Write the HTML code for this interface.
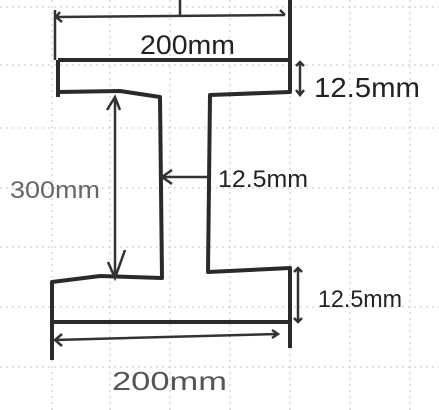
<!DOCTYPE html>
<html><head><meta charset="utf-8"><style>
html,body{margin:0;padding:0;background:#fff;}
svg{display:block;}
text{font-family:"Liberation Sans",sans-serif;fill:#222;}
</style></head><body>
<svg width="439" height="410" viewBox="0 0 439 410">
<g stroke="#c4c4c4" stroke-width="1" stroke-dasharray="2,4">
<line x1="52" y1="0" x2="52" y2="410"/><line x1="110" y1="0" x2="110" y2="410"/><line x1="170" y1="0" x2="170" y2="410"/><line x1="230" y1="0" x2="230" y2="410"/><line x1="290" y1="0" x2="290" y2="410"/><line x1="350" y1="0" x2="350" y2="410"/><line x1="410" y1="0" x2="410" y2="410"/>
<line x1="0" y1="7" x2="439" y2="7"/><line x1="0" y1="65" x2="439" y2="65"/><line x1="0" y1="128" x2="439" y2="128"/><line x1="0" y1="188" x2="439" y2="188"/><line x1="0" y1="247" x2="439" y2="247"/><line x1="0" y1="307" x2="439" y2="307"/><line x1="0" y1="367" x2="439" y2="367"/>
</g>
<g fill="none" stroke="#2a2a2a" stroke-width="4" stroke-linejoin="round">
<path d="M58,60 L290,60 M58,60 L58,97 M58,92 L120,91 L160,97 L162,278 L100,276 L52,282 L52,360 M52,322 L290,322 M290,0 L290,92 L210,95 L208,272 L290,268 L290,348"/>
</g>
<g fill="none" stroke="#333" stroke-width="2.5">
<path d="M55,10 L55,60 M56,17 L285,15 M180,0 L180,17 M60,12 L56,17 L62,22 M280,10 L285,15 M115,97 L115,278 M107,110 L115,97 L120,110 M108,262 L115,278 L125,250 M162,177 L208,177 M172,170 L162,177 L172,184 M300,62 L300,95 M296,66 L300,62 L304,66 M296,90 L300,95 L304,90 M298,268 L298,322 M294,272 L298,268 L302,272 M294,318 L298,322 L302,318 M55,340 L277,334 M62,334 L55,340 L62,346 M272,330 L278,334 L272,338"/>
</g>
<text x="140" y="54" font-size="27" textLength="95" lengthAdjust="spacingAndGlyphs">200mm</text>
<text x="314" y="97" font-size="28" textLength="106" lengthAdjust="spacingAndGlyphs">12.5mm</text>
<text x="10" y="198" font-size="24" textLength="90" lengthAdjust="spacingAndGlyphs" style="fill:#666">300mm</text>
<text x="218" y="187" font-size="24" textLength="90" lengthAdjust="spacingAndGlyphs">12.5mm</text>
<text x="318" y="307" font-size="24" textLength="84" lengthAdjust="spacingAndGlyphs">12.5mm</text>
<text x="112" y="390" font-size="26" textLength="115" lengthAdjust="spacingAndGlyphs" style="fill:#555">200mm</text>
</svg>
</body></html>
